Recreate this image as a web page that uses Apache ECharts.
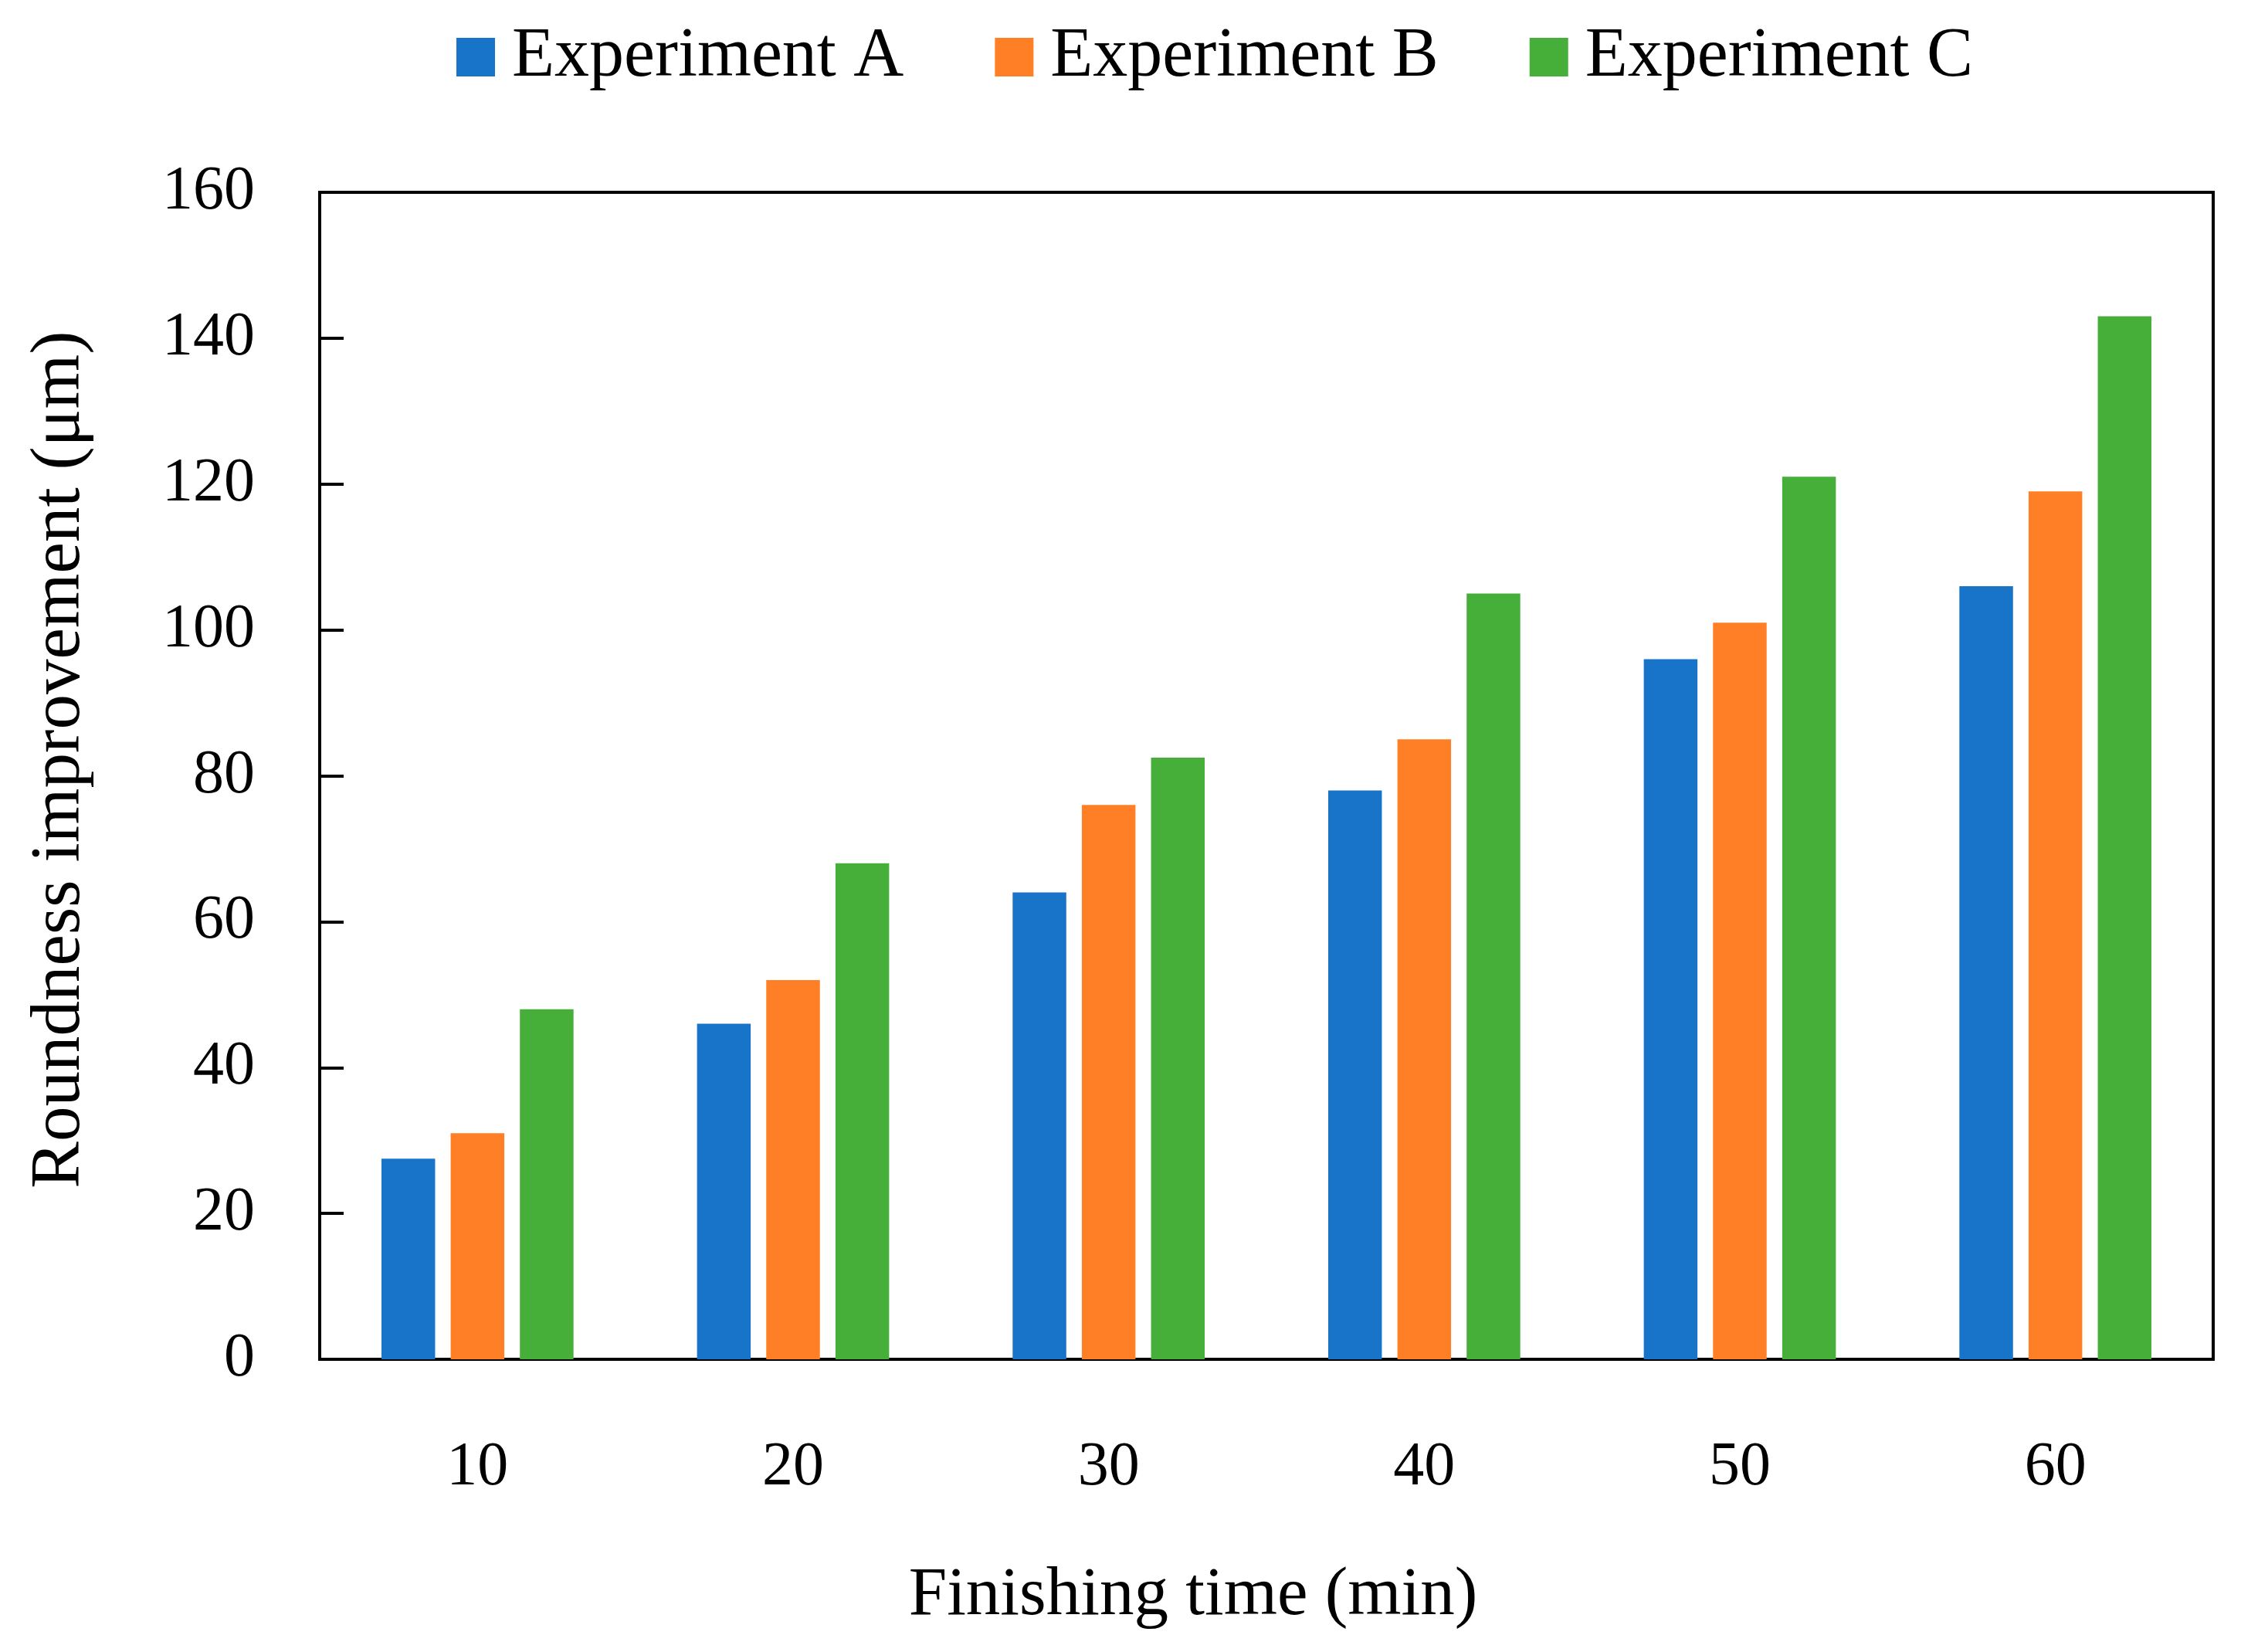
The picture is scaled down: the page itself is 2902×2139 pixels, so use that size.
<!DOCTYPE html>
<html>
<head>
<meta charset="utf-8">
<script src="https://cdn.jsdelivr.net/npm/echarts@6/dist/echarts.min.js"></script>
<style>
html,body{margin:0;padding:0;background:#fff;}
#chart{width:2902px;height:2139px;}
</style>
</head>
<body>
<div id="chart"></div>
<script>
const categories = ['10', '20', '30', '40', '50', '60'];
const seriesNames = ['Experiment A', 'Experiment B', 'Experiment C'];
const experimentA = [27.5, 46, 64, 78, 96, 106];
const experimentB = [31, 52, 76, 85, 101, 119];
const experimentC = [48, 68, 82.5, 105, 121, 143];
const colors = ['#1874C8', '#FF7F27', '#46AF3A'];

const FONT = '"Liberation Serif", "DejaVu Serif", serif';
const chart = echarts.init(document.getElementById('chart'), null, {renderer: 'canvas'});

const seriesData = [experimentA, experimentB, experimentC];
const option = {
  backgroundColor: '#ffffff',
  animation: false,
  color: colors,
  textStyle: {fontFamily: FONT, color: '#000'},
  legend: {
    top: 24,
    left: 586,
    itemWidth: 50,
    itemHeight: 50,
    itemGap: 118,
    icon: 'rect',
    textStyle: {fontFamily: FONT, fontSize: 90, color: '#000', padding: [0, 0, 0, 17]},
    data: seriesNames
  },
  grid: {
    left: 414, right: 36, top: 249, bottom: 379,
    show: true, borderColor: '#000', borderWidth: 4, containLabel: false
  },
  xAxis: {
    type: 'category',
    data: categories,
    name: 'Finishing time (min)',
    nameLocation: 'middle',
    nameGap: 262,
    nameTextStyle: {fontFamily: FONT, fontSize: 89, color: '#000', padding: [0, 190, 0, 0]},
    axisLine: {show: true, lineStyle: {color: '#000', width: 4}},
    axisTick: {show: false},
    axisLabel: {fontFamily: FONT, fontSize: 80, color: '#000', margin: 101},
    splitLine: {show: false}
  },
  yAxis: {
    type: 'value',
    min: 0, max: 160, interval: 20,
    name: 'Roundness improvement (μm)',
    nameLocation: 'middle',
    nameGap: 290,
    nameRotate: 90,
    nameTextStyle: {fontFamily: FONT, fontSize: 91, color: '#000', padding: [0, 0, 0, 42]},
    axisLine: {show: true, lineStyle: {color: '#000', width: 4}},
    axisTick: {show: true, inside: true, length: 31, lineStyle: {color: '#000', width: 4}},
    axisLabel: {fontFamily: FONT, fontSize: 80, color: '#000', margin: 84},
    splitLine: {show: false}
  },
  series: seriesNames.map((n, i) => ({
    name: n,
    type: 'bar',
    data: seriesData[i],
    barWidth: '17%',
    barGap: '29%',
    itemStyle: {color: colors[i]}
  }))
};
chart.setOption(option);
</script>
</body>
</html>
